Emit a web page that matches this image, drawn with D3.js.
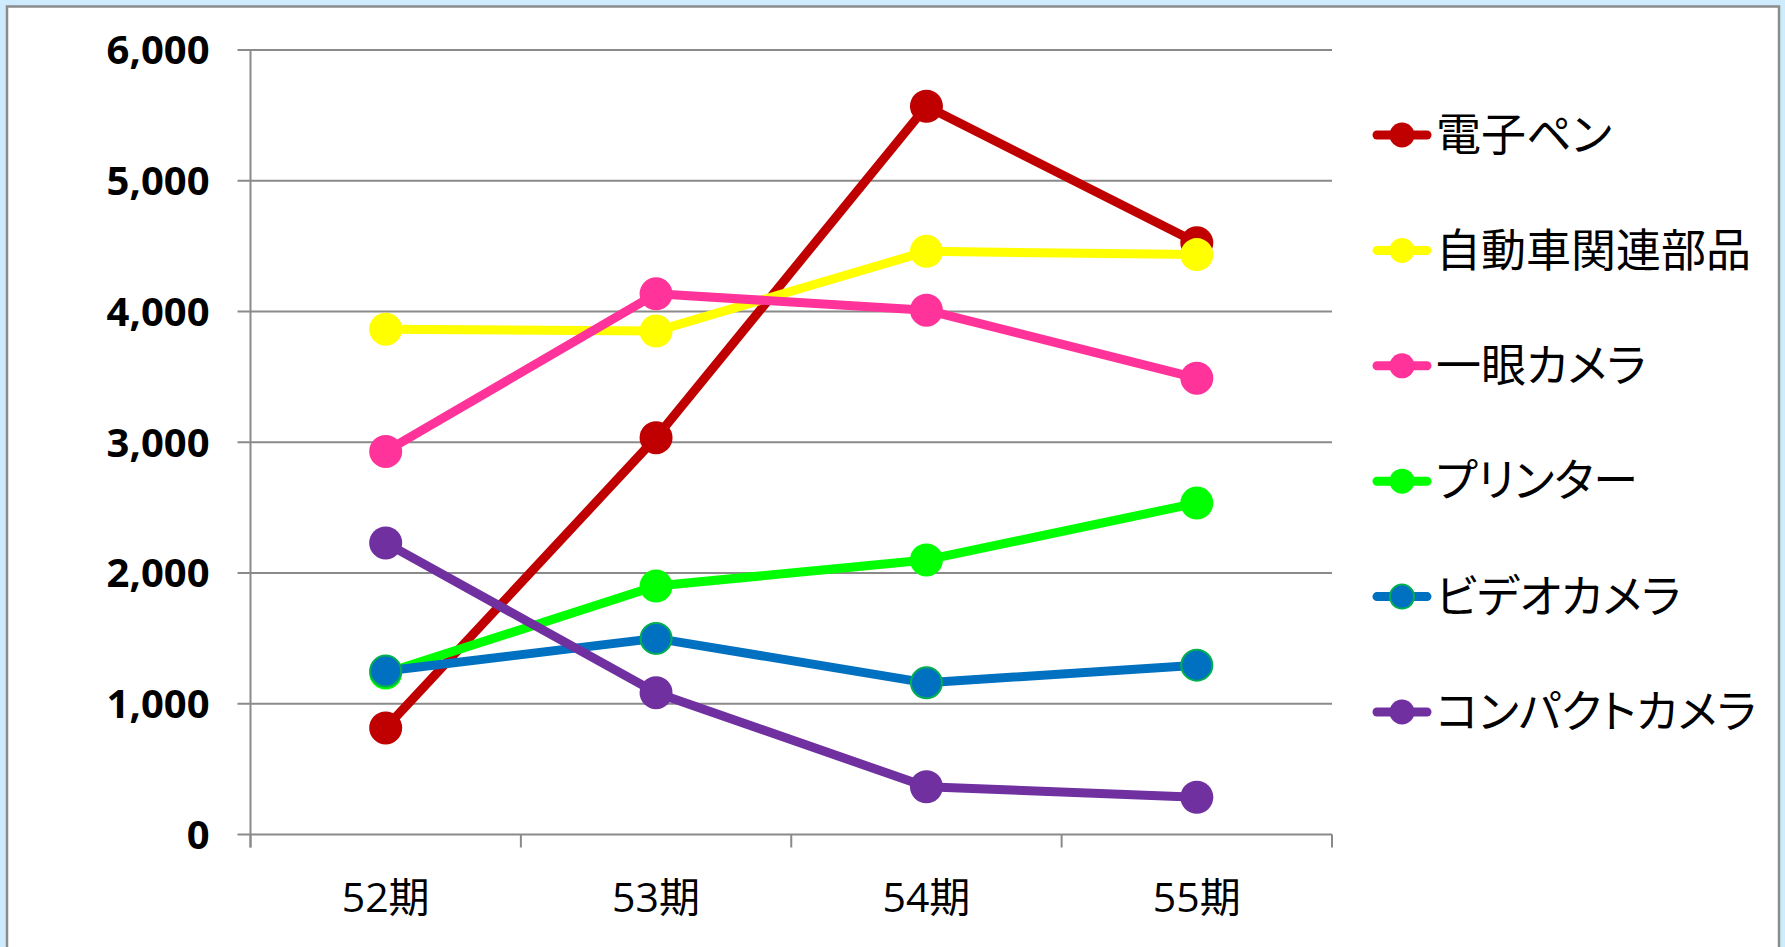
<!DOCTYPE html>
<html>
<head>
<meta charset="utf-8">
<script src="https://cdn.jsdelivr.net/npm/d3@7"></script>
<style>
  html, body { margin: 0; padding: 0; background: #cdebfd; }
  svg { display: block; }
  .legtext { font-feature-settings: "palt" 1; }
</style>
</head>
<body>
<svg id="chart" width="1785" height="947"></svg>
<script>
const categories = ["52期", "53期", "54期", "55期"];
const seriesNames = ["電子ペン", "自動車関連部品", "一眼カメラ", "プリンター", "ビデオカメラ", "コンパクトカメラ"];
const seriesColors = ["#C00000", "#FFFF00", "#FF3399", "#00FF00", "#0070C0", "#7030A0"];
const markerStrokes = [null, null, null, null, "#00B050", null];
const valsDenshiPen = [815, 3035, 5570, 4525];
const valsJidosha = [3865, 3850, 4460, 4435];
const valsIchigan = [2930, 4135, 4010, 3490];
const valsPrinter = [1235, 1900, 2100, 2535];
const valsVideo = [1250, 1500, 1160, 1295];
const valsCompact = [2230, 1085, 365, 285];
const yTicks = [0, 1000, 2000, 3000, 4000, 5000, 6000];

const seriesValues = [valsDenshiPen, valsJidosha, valsIchigan, valsPrinter, valsVideo, valsCompact];

(function () {
const svg = d3.select("#chart");
const W = 1785, H = 947;

// panel
svg.append("rect").attr("x", 0).attr("y", 0).attr("width", W).attr("height", H).attr("fill", "#cdebfd");
svg.append("rect").attr("x", 7).attr("y", 6.5).attr("width", 1772).attr("height", 960)
  .attr("fill", "#ffffff").attr("stroke", "#8c8c8c").attr("stroke-width", 2.5);

const pLeft = 250.5, pRight = 1332, pTop = 50, pBottom = 834.5;

const x = d3.scaleBand().domain(categories).range([pLeft, pRight]).padding(0);
const y = d3.scaleLinear().domain([0, 6000]).range([pBottom, pTop]);

// gridlines
const g = svg.append("g");
g.selectAll("line.grid").data(yTicks).join("line")
  .attr("class", "grid")
  .attr("x1", pLeft - 13).attr("x2", pRight)
  .attr("y1", d => y(d)).attr("y2", d => y(d))
  .attr("stroke", "#8a8a8a").attr("stroke-width", 2);

// y axis line
g.append("line").attr("x1", pLeft).attr("x2", pLeft).attr("y1", pTop).attr("y2", pBottom + 13)
  .attr("stroke", "#8a8a8a").attr("stroke-width", 2);

// x axis ticks at band boundaries
const boundaries = categories.map(c => x(c)).concat([pRight]);
g.selectAll("line.xt").data(boundaries).join("line")
  .attr("class", "xt")
  .attr("x1", d => d).attr("x2", d => d)
  .attr("y1", pBottom).attr("y2", pBottom + 13)
  .attr("stroke", "#8a8a8a").attr("stroke-width", 2);

// y labels
const fmt = d3.format(",");
g.selectAll("text.yl").data(yTicks).join("text")
  .attr("class", "yl")
  .attr("x", pLeft - 41)
  .attr("y", d => y(d))
  .attr("dy", "0.36em")
  .attr("text-anchor", "end")
  .attr("font-family", "'Open Sans', 'Noto Sans', sans-serif")
  .attr("font-weight", "bold")
  .attr("font-size", 40)
  .attr("fill", "#000")
  .text(d => fmt(d));

// x labels
g.selectAll("text.xl").data(categories).join("text")
  .attr("class", "xl")
  .attr("x", d => x(d) + x.bandwidth() / 2)
  .attr("y", 912)
  .attr("text-anchor", "middle")
  .attr("font-family", "'Open Sans', 'Noto Sans CJK JP', sans-serif")
  .attr("font-size", 41)
  .attr("fill", "#000")
  .text(d => d);

// series
const line = d3.line()
  .x((d, i) => x(categories[i]) + x.bandwidth() / 2)
  .y(d => y(d));

seriesNames.forEach((name, si) => {
  const vals = seriesValues[si];
  const sg = svg.append("g");
  sg.append("path").datum(vals)
    .attr("d", line)
    .attr("fill", "none")
    .attr("stroke", seriesColors[si])
    .attr("stroke-width", 9)
    .attr("stroke-linejoin", "round")
    .attr("stroke-linecap", "round");
  sg.selectAll("circle").data(vals).join("circle")
    .attr("cx", (d, i) => x(categories[i]) + x.bandwidth() / 2)
    .attr("cy", d => y(d))
    .attr("r", markerStrokes[si] ? 15.5 : 16.5)
    .attr("fill", seriesColors[si])
    .attr("stroke", markerStrokes[si] || "none")
    .attr("stroke-width", markerStrokes[si] ? 2 : 0);
});

// legend
const legend = svg.append("g");
const legY0 = 135, legStep = 115.4;
seriesNames.forEach((name, si) => {
  const ly = legY0 + si * legStep;
  legend.append("line")
    .attr("x1", 1377).attr("x2", 1427).attr("y1", ly).attr("y2", ly)
    .attr("stroke", seriesColors[si]).attr("stroke-width", 9).attr("stroke-linecap", "round");
  legend.append("circle")
    .attr("cx", 1402).attr("cy", ly)
    .attr("r", markerStrokes[si] ? 12 : 12.5)
    .attr("fill", seriesColors[si])
    .attr("stroke", markerStrokes[si] || "none")
    .attr("stroke-width", markerStrokes[si] ? 2 : 0);
  legend.append("text")
    .attr("class", "legtext")
    .attr("x", 1436)
    .attr("y", ly)
    .attr("dy", "0.36em")
    .attr("font-family", "'Noto Sans CJK JP', sans-serif")
    .attr("font-size", 45)
    .attr("fill", "#000")
    .text(name);
});
})();
</script>
</body>
</html>
